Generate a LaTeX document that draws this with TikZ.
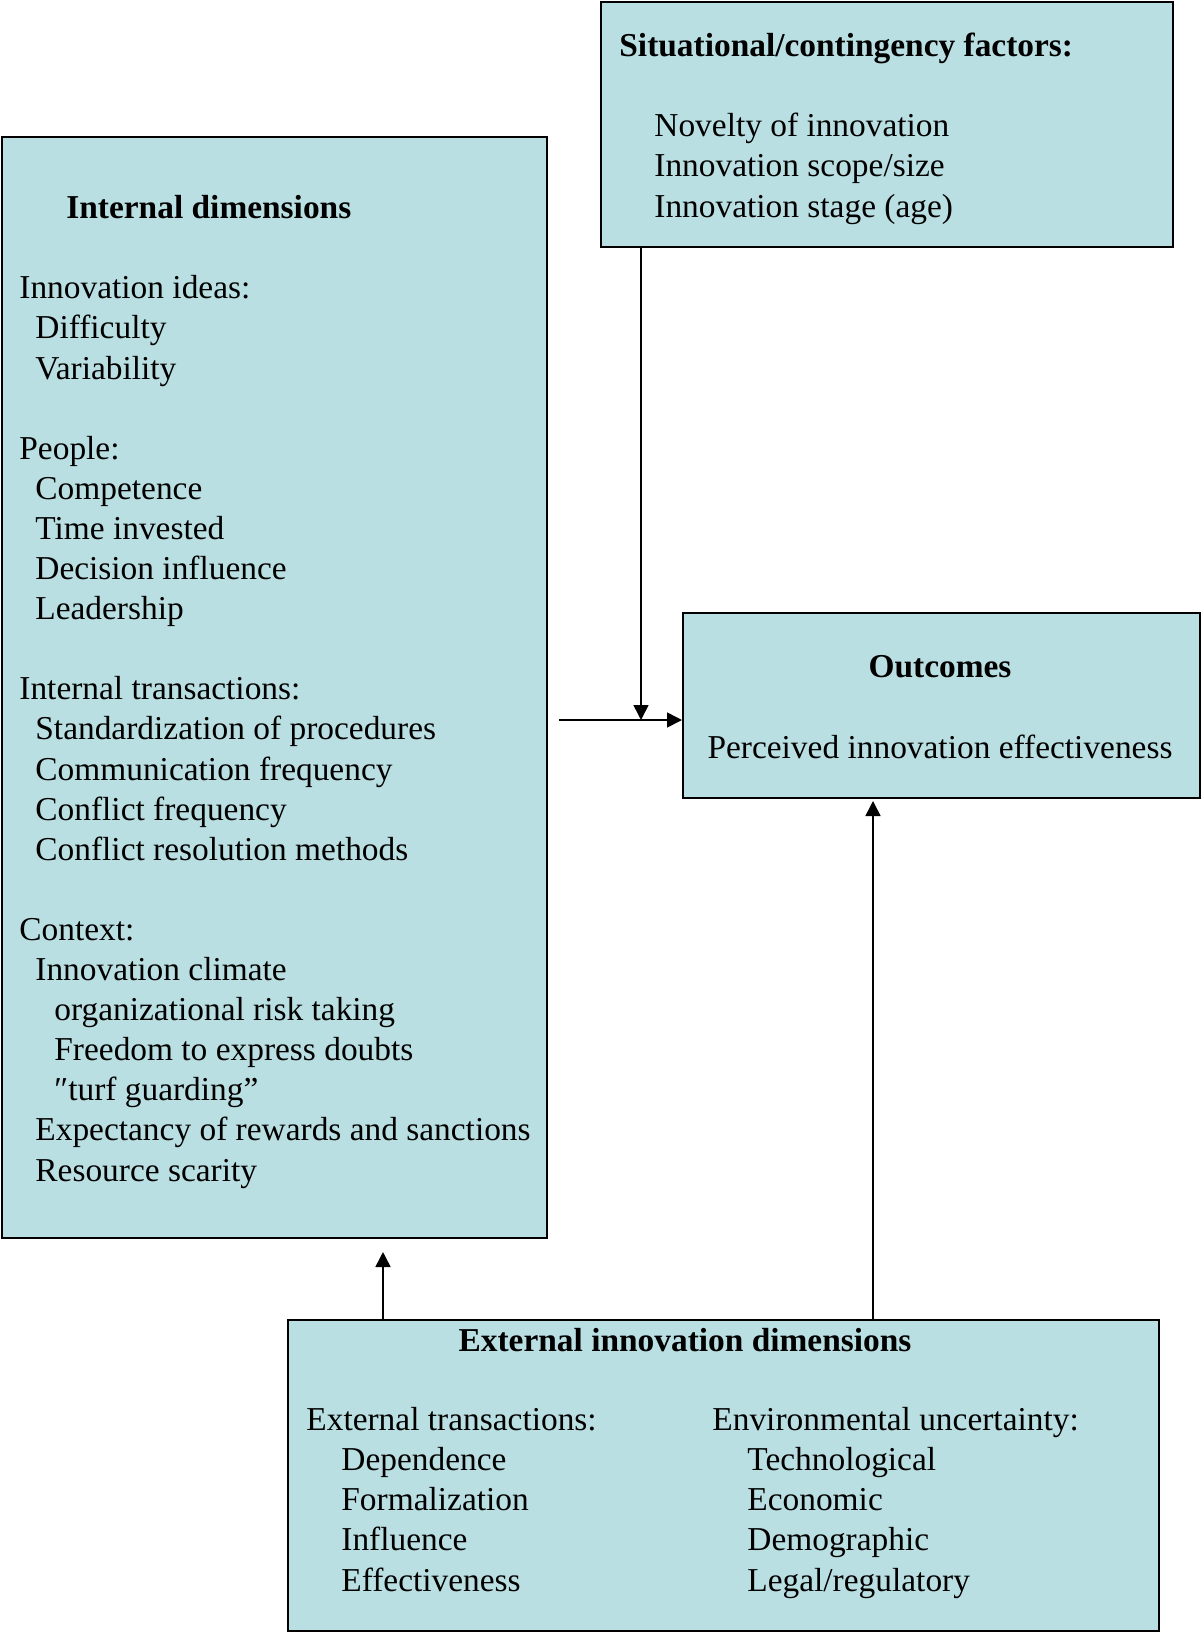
\documentclass[tikz,border=0pt]{standalone}
\usepackage{fontspec}
\setmainfont{Liberation Serif}
\usetikzlibrary{arrows.meta}
\definecolor{boxfill}{RGB}{186,223,226}
\newcommand{\indA}{\hspace*{8pt}}
\newcommand{\indB}{\hspace*{17.5pt}}
\tikzset{>/.tip={Triangle[length=7.5pt,width=7.5pt]},
  box/.style={draw=black, line width=1pt, fill=boxfill, rectangle, inner sep=0pt, anchor=north west},
  txt/.style={align=left, inner sep=0pt, anchor=base west, font=\fontsize{16.7pt}{20.05pt}\selectfont},
  link/.style={->, line width=0.8pt}}

\begin{document}
\begin{tikzpicture}[x=0.5pt, y=-0.5pt]
\useasboundingbox (0,0) rectangle (1200,1632);
% boxes
\node[box, minimum width=272.5pt, minimum height=550.5pt] (int) at (1,136) {};
\node[box, minimum width=286pt, minimum height=122.5pt] (sit) at (600,1) {};
\node[box, minimum width=258.5pt, minimum height=92.5pt]  (out) at (682,612) {};
\node[box, minimum width=435.5pt, minimum height=155.5pt] (ext) at (287,1319) {};
% texts (anchored at the baseline of their last line)
\node[txt] (inttext) at (19,1181) {\hspace*{23.5pt}\textbf{Internal dimensions}\\[20.05pt]
Innovation ideas:\\
\indA Difficulty\\
\indA Variability\\[20.05pt]
People:\\
\indA Competence\\
\indA Time invested\\
\indA Decision influence\\
\indA Leadership\\[20.05pt]
Internal transactions:\\
\indA Standardization of procedures\\
\indA Communication frequency\\
\indA Conflict frequency\\
\indA Conflict resolution methods\\[20.05pt]
Context:\\
\indA Innovation climate\\
\indB organizational risk taking\\
\indB Freedom to express doubts\\
\indB ″turf guarding”\\
\indA Expectancy of rewards and sanctions\\
\indA Resource scarity};
\node[txt] (sittext) at (619,217) {\textbf{Situational/contingency factors:}\\[20.05pt]
\indB Novelty of innovation\\
\indB Innovation scope/size\\
\indB Innovation stage (age)};
\node[txt, align=center, anchor=base] (outtext) at (940,758) {\textbf{Outcomes}\\[20.05pt]
Perceived innovation effectiveness};
\node[txt, anchor=base] (exthead) at (685,1351) {\textbf{External innovation dimensions}};
\node[txt] (extleft) at (306,1591) {External transactions:\\
\indB Dependence\\
\indB Formalization\\
\indB Influence\\
\indB Effectiveness};
\node[txt] (extright) at (712,1591) {Environmental uncertainty:\\
\indB Technological\\
\indB Economic\\
\indB Demographic\\
\indB Legal/regulatory};
% connectors
\coordinate (hstart) at (559,720);
\coordinate (join) at (641,720);
\coordinate (intend) at (383,1252);
\coordinate (outend) at (873,801);
\draw[link] (hstart) -- (hstart -| out.west);
\draw[link] (sit.south -| join) -- (join);
\draw[link] (ext.north -| intend) -- (intend);
\draw[link] (ext.north -| outend) -- (outend);
\end{tikzpicture}
\end{document}
